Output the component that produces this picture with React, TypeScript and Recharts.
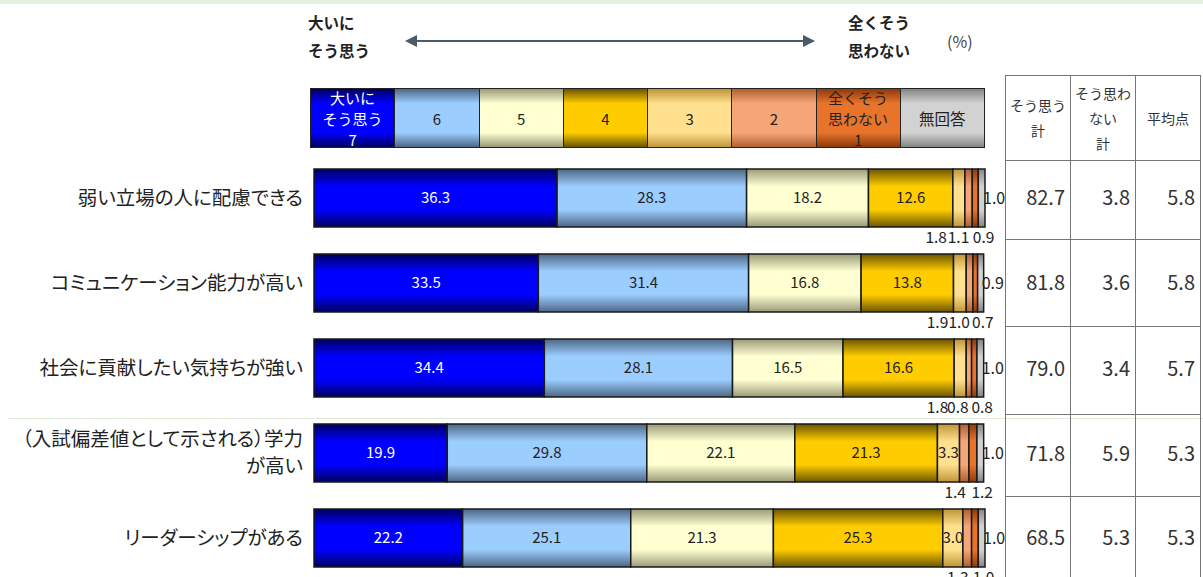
import React from 'react';
import { BarChart, Bar, XAxis, YAxis, LabelList } from 'recharts';

const categories = [
  '弱い立場の人に配慮できる',
  'コミュニケーション能力が高い',
  '社会に貢献したい気持ちが強い',
  '（入試偏差値として示される）学力\nが高い',
  'リーダーシップがある',
];

// 7 = 大いにそう思う ... 1 = 全くそう思わない
const v7 = [36.3, 33.5, 34.4, 19.9, 22.2];
const v6 = [28.3, 31.4, 28.1, 29.8, 25.1];
const v5 = [18.2, 16.8, 16.5, 22.1, 21.3];
const v4 = [12.6, 13.8, 16.6, 21.3, 25.3];
const v3 = [1.8, 1.9, 1.8, 3.3, 3.0];
const v2 = [1.1, 1.0, 0.8, 1.4, 1.3];
const v1 = [0.9, 0.7, 0.8, 1.2, 1.0];
const vNA = [1.0, 0.9, 1.0, 1.0, 1.0];

const agreeTotal = [82.7, 81.8, 79.0, 71.8, 68.5];
const disagreeTotal = [3.8, 3.6, 3.4, 5.9, 5.3];
const avgScore = [5.8, 5.8, 5.7, 5.3, 5.3];

const legendLabels = ['大いに\nそう思う\n7', '6', '5', '4', '3', '2', '全くそう\n思わない\n1', '無回答'];

const seriesKeys = ['s7', 's6', 's5', 's4', 's3', 's2', 's1', 'na'];
const shades: Record<string, [string, string]> = {
  s7: ['#0000ff', '#00005e'],
  s6: ['#9ccdff', '#4d6784'],
  s5: ['#ffffd2', '#9a9a78'],
  s4: ['#ffcc00', '#6a5500'],
  s3: ['#ffe08e', '#bf9638'],
  s2: ['#f5a679', '#b0602e'],
  s1: ['#e8742c', '#8e3a0c'],
  na: ['#d2d2d2', '#858585'],
};

const data = categories.map((name, i) => ({
  name,
  s7: v7[i],
  s6: v6[i],
  s5: v5[i],
  s4: v4[i],
  s3: v3[i],
  s2: v2[i],
  s1: v1[i],
  na: vNA[i],
}));

const font = '"Noto Sans CJK JP", "Noto Sans", sans-serif';
const fmt = (v: number) => v.toFixed(1);

const makeLabel = (key: string) => (props: any) => {
  const { x, y, width, height, value } = props;
  if (value == null) return null;
  const cy = y + height / 2;
  const end = x + width;
  if (key === 'na') {
    return (
      <text x={end - 2} y={cy} dy={6} fontSize={16} fill="#222" textAnchor="start" fontFamily={font}>
        {fmt(value)}
      </text>
    );
  }
  if ((key === 's3' || key === 's2' || key === 's1') && value < 3) {
    const off = key === 's1' ? 16 : key === 's2' ? -3 : -18;
    return (
      <text x={end + off} y={y + height + 16} fontSize={15.5} fill="#222" textAnchor="end" fontFamily={font}>
        {fmt(value)}
      </text>
    );
  }
  return (
    <text x={x + width / 2} y={cy} dy={5} fontSize={15} fill={key === 's7' ? '#fff' : '#222'} textAnchor="middle" fontFamily={font}>
      {fmt(value)}
    </text>
  );
};

const CategoryTick = (props: any) => {
  const { x, y, payload } = props;
  const lines: string[] = String(payload.value).split('\n');
  const lh = 27;
  const start = -((lines.length - 1) * lh) / 2;
  return (
    <text
      x={x - 3}
      y={y}
      textAnchor="end"
      fontSize={19.5}
      fill="#222"
      fontFamily={font}
      style={{ fontFeatureSettings: '"palt"' }}
    >
      {lines.map((l, i) => (
        <tspan key={i} x={x - 3} dy={i === 0 ? start + 7 : lh}>
          {l}
        </tspan>
      ))}
    </text>
  );
};

const tableCols = [1005, 1070, 1135];
const tableLines = [75, 160, 239, 326, 414, 496];
const rowCenters = [197, 282, 368, 453, 537];

export default function App() {
  const tableVals = [agreeTotal, disagreeTotal, avgScore];
  return (
    <div
      style={{
        position: 'absolute',
        left: 0,
        top: 0,
        width: 1203,
        height: 577,
        overflow: 'hidden',
        background: '#fff',
        fontFamily: font,
        color: '#222',
      }}
    >
      <div style={{ position: 'absolute', left: 0, top: 0, width: 1203, height: 4, background: '#e6f0de' }} />
      <div style={{ position: 'absolute', left: 8, top: 418, width: 1195, height: 1, background: '#e2ecdc' }} />

      {/* header */}
      <div style={{ position: 'absolute', left: 308, top: 8, fontSize: 15.5, fontWeight: 700, lineHeight: '28px' }}>
        大いに
        <br />
        そう思う
      </div>
      <div style={{ position: 'absolute', left: 790, width: 120, top: 8, fontSize: 15.5, fontWeight: 700, lineHeight: '28px', textAlign: 'right' }}>
        全くそう
        <br />
        思わない
      </div>
      <div style={{ position: 'absolute', left: 947, top: 29, fontSize: 16, color: '#444' }}>(%)</div>
      <svg style={{ position: 'absolute', left: 0, top: 0 }} width={1000} height={80}>
        <line x1={414} y1={41} x2={806} y2={41} stroke="#4b5968" strokeWidth={2} />
        <polygon points="405,41 417,35 417,47" fill="#4b5968" />
        <polygon points="815,41 803,35 803,47" fill="#4b5968" />
      </svg>

      {/* legend strip */}
      <div
        style={{
          position: 'absolute',
          left: 310,
          top: 88,
          width: 675,
          height: 60,
          display: 'flex',
          border: '1.5px solid #222',
          boxSizing: 'border-box',
        }}
      >
        {legendLabels.map((lab, i) => {
          const [b, d] = shades[seriesKeys[i]];
          return (
            <div
              key={i}
              style={{
                flex: 1,
                borderLeft: i === 0 ? 'none' : '1.5px solid #222',
                background: `linear-gradient(to bottom, ${d} 0%, ${b} 25%, ${b} 75%, ${d} 100%)`,
                display: 'flex',
                alignItems: 'center',
                justifyContent: 'center',
                overflow: 'hidden',
                textAlign: 'center',
                fontSize: i === 7 ? 15.5 : 15,
                lineHeight: '21px',
                whiteSpace: 'pre',
                color: i === 0 ? '#fff' : '#222',
              }}
            >
              {lab}
            </div>
          );
        })}
      </div>

      {/* chart */}
      <div style={{ position: 'absolute', left: 0, top: 0 }}>
        <BarChart
          width={1005}
          height={600}
          data={data}
          layout="vertical"
          margin={{ top: 155, right: 20, bottom: 20, left: 0 }}
          barSize={58}
        >
          <defs>
            {seriesKeys.map((k) => (
              <linearGradient key={k} id={`g-${k}`} x1="0" y1="0" x2="0" y2="1">
                <stop offset="0%" stopColor={shades[k][1]} />
                <stop offset="30%" stopColor={shades[k][0]} />
                <stop offset="70%" stopColor={shades[k][0]} />
                <stop offset="100%" stopColor={shades[k][1]} />
              </linearGradient>
            ))}
          </defs>
          <XAxis type="number" domain={[0, 100.2]} hide />
          <YAxis type="category" dataKey="name" width={314} axisLine={false} tickLine={false} tick={<CategoryTick />} interval={0} />
          {seriesKeys.map((k) => (
            <Bar key={k} dataKey={k} stackId="a" fill={`url(#g-${k})`} stroke="#1a1a1a" strokeWidth={1.5} isAnimationActive={false}>
              <LabelList dataKey={k} content={makeLabel(k)} />
            </Bar>
          ))}
        </BarChart>
      </div>

      {/* table */}
      {tableLines.map((ty, i) => (
        <div key={'h' + i} style={{ position: 'absolute', left: 1005, top: ty, width: 195, height: 1, background: '#777' }} />
      ))}
      {[...tableCols, 1200].map((tx, i) => (
        <div key={'v' + i} style={{ position: 'absolute', left: tx, top: 75, width: 1, height: 510, background: '#777' }} />
      ))}
      {['そう思う\n計', 'そう思わ\nない\n計', '平均点'].map((h, i) => (
        <div
          key={'th' + i}
          style={{
            position: 'absolute',
            left: tableCols[i] + 1,
            top: 76,
            width: 64,
            height: 84,
            display: 'flex',
            alignItems: 'center',
            justifyContent: 'center',
            textAlign: 'center',
            whiteSpace: 'pre',
            fontSize: 14,
            lineHeight: '25px',
            color: '#333',
          }}
        >
          {h}
        </div>
      ))}
      {tableVals.map((col, ci) =>
        col.map((v, ri) => (
          <div
            key={`c${ci}-${ri}`}
            style={{
              position: 'absolute',
              left: tableCols[ci],
              width: 60,
              top: rowCenters[ri] - 14,
              height: 28,
              lineHeight: '28px',
              textAlign: 'right',
              fontSize: 20,
              color: '#333',
            }}
          >
            {fmt(v)}
          </div>
        ))
      )}
    </div>
  );
}
